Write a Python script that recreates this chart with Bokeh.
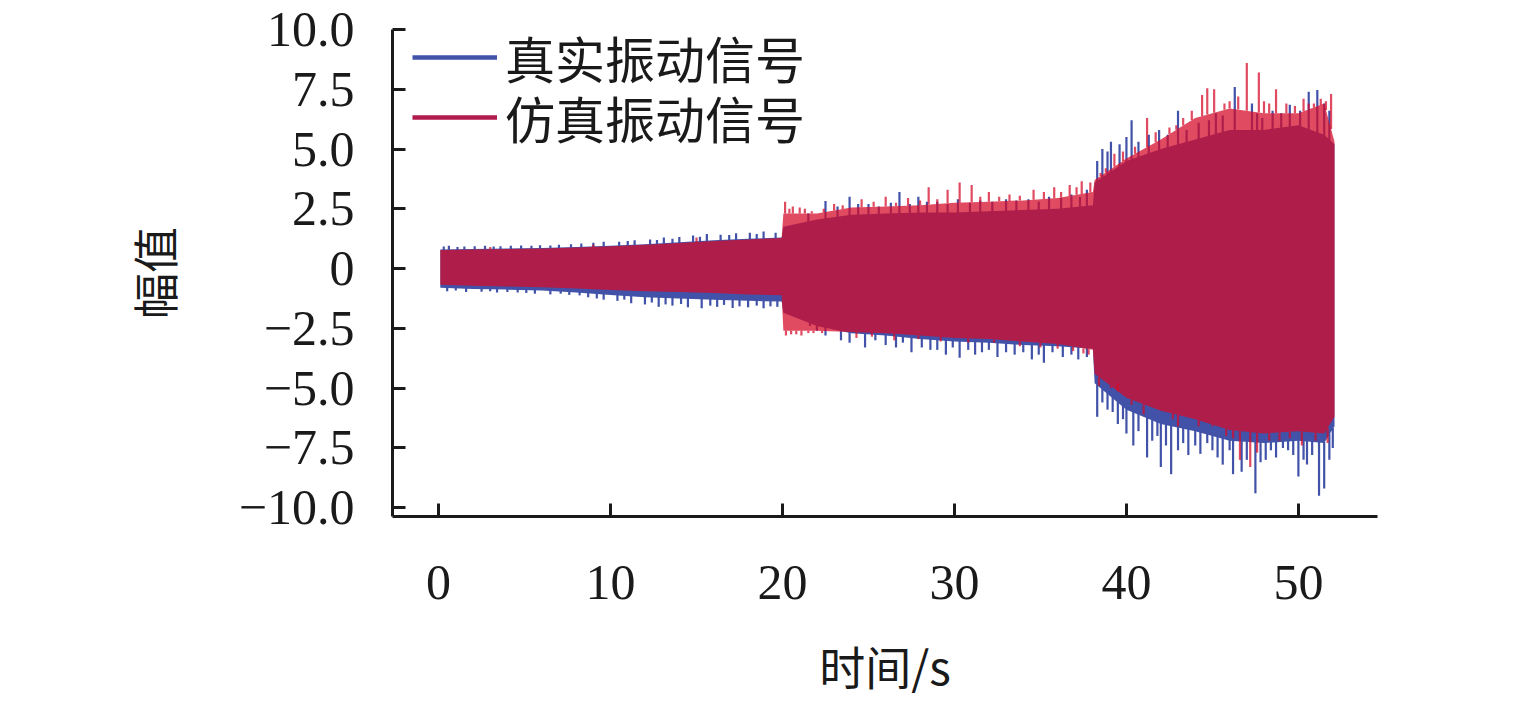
import numpy as np
from bokeh.plotting import figure
from bokeh.models import Range1d, FixedTicker, Legend, LegendItem
from bokeh.embed import file_html
from bokeh.resources import INLINE

# ---- data ----
# body envelope breakpoints (s)
t_env = [0.1, 2, 4, 6, 8, 10, 12, 14, 16, 18, 19.95, 20.05, 22, 24, 26, 28, 30,
         32, 34, 36, 38.05, 38.15, 40, 42, 44, 46, 48, 50, 51.5, 52.1]
real_top = [0.80, 0.82, 0.84, 0.86, 0.90, 0.95, 1.02, 1.10, 1.18, 1.25, 1.30, 1.75,
            2.05, 2.25, 2.30, 2.35, 2.35, 2.40, 2.45, 2.50, 2.65, 3.60, 4.50, 5.00,
            5.40, 5.80, 5.80, 6.00, 5.60, 5.20]
real_bot = [-0.80, -0.85, -0.88, -0.92, -1.00, -1.10, -1.20, -1.25, -1.30, -1.35,
            -1.38, -1.85, -2.40, -2.70, -2.80, -2.95, -3.05, -3.10, -3.20, -3.25,
            -3.35, -4.80, -5.90, -6.50, -6.80, -7.20, -7.30, -7.20, -7.30, -6.60]
sim_top = [0.78, 0.80, 0.82, 0.84, 0.88, 0.93, 1.00, 1.07, 1.15, 1.22, 1.28, 2.30,
           2.30, 2.55, 2.60, 2.65, 2.75, 2.80, 2.85, 2.95, 3.20, 3.70, 4.60, 5.40,
           6.30, 6.70, 6.50, 6.50, 6.90, 5.30]
sim_bot = [-0.68, -0.72, -0.75, -0.78, -0.83, -0.90, -0.95, -0.98, -1.02, -1.08,
           -1.12, -2.60, -2.60, -2.65, -2.70, -2.80, -2.90, -2.95, -3.05, -3.15,
           -3.40, -4.40, -5.40, -5.95, -6.30, -6.75, -6.90, -6.80, -6.90, -6.20]

# individual peaks (time s, amplitude)
real_up_t = [0.3, 0.6, 1.1, 1.5, 2.1, 2.7, 3.2, 3.6, 4.2, 4.8, 5.4, 5.9, 6.5, 7.0, 7.7,
             8.3, 9.0, 9.6, 10.5, 11.0, 11.4, 12.3, 12.7, 13.1, 13.6, 14.0, 14.8, 15.2,
             15.6, 16.4, 16.9, 17.3, 18.1, 18.5, 18.9, 19.6,
             21.5, 22.5, 23.2, 23.9, 24.4, 25.0, 25.6, 26.3, 26.8, 27.4, 27.9, 28.4, 29.0,
             29.6, 30.2, 30.9, 31.5, 32.2, 33.0, 33.6, 34.3, 34.9, 35.5, 36.2, 36.8, 37.3,
             37.7,
             38.3, 38.6, 38.9, 39.1, 39.6, 40.0, 40.3, 40.7, 41.3, 41.9, 42.4, 43.0, 43.5,
             44.2, 44.8, 45.2, 45.6, 46.3, 47.3, 47.6, 47.9, 48.5, 49.0, 49.5, 50.1, 50.6,
             51.1, 51.5, 51.8]
real_up_v = [0.92, 0.95, 0.90, 0.92, 0.93, 0.95, 0.92, 0.93, 0.95, 0.97, 0.95, 0.98, 0.97,
             1.00, 1.02, 1.05, 1.08, 1.12, 1.12, 1.15, 1.18, 1.22, 1.20, 1.30, 1.25, 1.32,
             1.38, 1.33, 1.45, 1.42, 1.40, 1.48, 1.50, 1.45, 1.55, 1.50,
             2.30, 2.83, 2.60, 3.00, 2.70, 2.70, 2.60, 2.75, 3.20, 2.70, 3.00, 2.80, 2.80,
             2.70, 2.90, 2.75, 2.85, 2.80, 2.90, 2.85, 2.90, 2.80, 3.00, 2.95, 3.10, 3.00,
             3.30,
             4.50, 5.00, 4.90, 5.30, 5.20, 5.50, 6.20, 5.30, 5.60, 5.80, 5.60, 6.60, 5.80,
             6.10, 6.20, 6.50, 6.40, 7.60, 6.90, 6.50, 6.30, 6.60, 6.50, 6.85, 6.60, 7.40,
             7.47, 6.90, 6.60]
real_dn_t = [0.5, 1.0, 1.6, 2.5, 3.0, 3.4, 4.0, 4.6, 5.1, 5.6, 6.5, 7.1, 7.6, 8.2, 8.7,
             9.2, 9.6, 10.4, 10.8, 11.2, 12.0, 12.4, 12.8, 13.2, 13.6, 14.1, 14.5, 15.3,
             15.8, 16.2, 16.6, 17.1, 17.5, 18.0, 18.5, 18.9, 19.3, 19.7,
             21.0, 21.6, 22.0, 22.5, 23.4, 23.9, 24.8, 25.4, 26.0, 26.6, 27.0, 27.5, 28.1,
             28.6, 29.0, 29.5, 29.9, 30.3, 30.8, 31.2, 31.6, 32.0, 32.5, 33.0, 33.5, 34.0,
             34.5, 34.9, 35.2, 35.7, 36.3, 36.8, 37.2, 37.7,
             38.3, 38.6, 38.9, 39.2, 39.5, 39.8, 40.0, 40.4, 40.7, 41.2, 41.5, 41.8, 42.0,
             42.3, 42.6, 43.0, 43.3, 43.6, 44.0, 44.3, 44.7, 45.0, 45.3, 45.6, 46.0, 46.2,
             46.7, 47.0, 47.5, 47.8, 48.1, 48.4, 48.7, 49.1, 49.4, 49.7, 50.0, 50.3, 50.5,
             50.8, 51.2, 51.5, 51.8, 52.0]
real_dn_v = [-0.95, -0.92, -0.98, -0.97, -0.95, -1.00, -0.98, -1.00, -1.02, -1.05, -1.08,
             -1.05, -1.10, -1.12, -1.20, -1.25, -1.30, -1.35, -1.30, -1.45, -1.50, -1.42,
             -1.60, -1.50, -1.55, -1.48, -1.62, -1.66, -1.55, -1.60, -1.52, -1.65, -1.58,
             -1.62, -1.55, -1.66, -1.58, -1.60,
             -2.10, -2.40, -2.60, -2.80, -3.00, -3.10, -3.30, -3.00, -3.20, -3.30, -3.10,
             -3.50, -3.30, -3.40, -3.40, -3.60, -3.30, -3.73, -3.40, -3.60, -3.50, -3.40,
             -3.70, -3.50, -3.60, -3.50, -3.80, -3.60, -3.94, -3.50, -3.70, -3.60, -3.80,
             -3.70,
             -6.20, -5.60, -5.90, -6.00, -6.50, -6.30, -6.90, -7.40, -6.80, -7.90, -7.20,
             -7.00, -8.30, -7.40, -8.60, -7.60, -7.30, -7.80, -7.40, -7.75, -7.30, -7.60,
             -7.90, -8.20, -7.60, -8.60, -8.50, -8.00, -9.40, -8.10, -8.00, -7.60, -7.90,
             -7.50, -7.60, -7.80, -8.70, -8.00, -8.20, -7.80, -9.50, -9.20, -8.00, -7.50]
sim_up_t = [3.0, 9.0, 15.0,
            20.15, 20.4, 20.6, 21.0, 21.3, 21.7, 22.4, 23.0, 23.5, 24.6, 25.3, 26.0, 26.6,
            27.3, 28.0, 28.5, 29.0, 29.6, 30.3, 31.0, 31.5, 32.0, 32.6, 33.2, 33.8, 34.6,
            35.2, 35.8, 36.2, 36.7, 37.1, 37.4, 37.9,
            38.5, 38.8, 39.3, 39.8, 40.5, 41.2, 41.7, 42.5, 42.9, 43.3, 43.8, 44.4, 44.7,
            45.1, 45.7, 46.0, 46.5, 47.0, 47.7, 48.0, 48.3, 48.7, 49.3, 49.8, 50.3, 50.6,
            50.9, 51.3, 51.6, 51.9]
sim_up_v = [0.90, 1.00, 1.30,
            2.80, 2.50, 2.60, 2.55, 2.50, 2.40, 2.50, 2.70, 2.65, 2.90, 2.80, 3.00, 2.75,
            2.95, 2.85, 3.40, 2.90, 3.30, 3.60, 3.50, 3.00, 3.20, 3.00, 3.10, 3.05, 3.30,
            3.20, 3.40, 3.20, 3.50, 3.40, 3.65, 3.60,
            4.00, 4.20, 4.80, 4.90, 5.10, 6.30, 5.70, 5.90, 6.00, 6.30, 6.60, 7.26, 7.54,
            7.50, 6.90, 7.00, 7.20, 8.60, 8.20, 7.00, 6.90, 7.50, 6.90, 6.80, 7.10, 6.90,
            6.90, 7.10, 7.00, 7.30]
sim_dn_t = [20.2, 20.5, 20.8, 21.1, 21.5, 21.8, 22.3, 24.3, 25.2, 26.5, 27.9, 29.2, 30.8,
            32.3, 33.8, 35.0, 36.0, 36.9, 37.5, 37.8,
            38.4, 39.1, 39.5, 40.3, 41.0, 42.7, 43.0, 44.2, 45.0, 45.8, 46.2, 46.6, 47.2,
            47.6, 48.3, 48.9, 49.5, 50.2, 51.0, 51.7]
sim_dn_v = [-2.80, -2.75, -2.75, -2.80, -2.70, -2.70, -2.70, -2.90, -2.85, -3.00, -2.95,
            -3.05, -3.10, -3.10, -3.25, -3.30, -3.35, -3.45, -3.55, -3.60,
            -4.90, -5.00, -4.80, -5.70, -6.10, -6.30, -6.60, -6.60, -6.60, -7.00, -7.10,
            -8.00, -8.30, -7.70, -7.20, -7.20, -7.10, -7.40, -7.20, -7.30]

x_ticks = [0, 10, 20, 30, 40, 50]
y_ticks = [10.0, 7.5, 5.0, 2.5, 0.0, -2.5, -5.0, -7.5, -10.0]
y_tick_labels = ["10.0", "7.5", "5.0", "2.5", "0", "\u22122.5", "\u22125.0", "\u22127.5", "\u221210.0"]

series_names = ["真实振动信号", "仿真振动信号"]
BLUE = "#4152A8"
RED = "#D50C2A"
RED_LEGEND = "#B01A4C"
AXIS = "#1a1a1a"

W, H = 1519, 700
FRAME_L, FRAME_T, FRAME_R, FRAME_B = 392, 29, 1377, 520
p = figure(width=W, height=H, output_backend="svg", toolbar_location=None,
           x_range=Range1d(-2.68, 54.6), y_range=Range1d(-10.37, 10.0),
           min_border_left=FRAME_L, min_border_right=W - FRAME_R,
           min_border_top=FRAME_T, min_border_bottom=H - FRAME_B)
p.outline_line_color = None
p.grid.visible = False
p.background_fill_color = "white"
p.border_fill_color = "white"

# real signal
p.varea(x=t_env, y1=real_bot, y2=real_top, fill_color=BLUE)
p.segment(x0=real_up_t, y0=np.interp(real_up_t, t_env, real_top) - 0.05, x1=real_up_t,
          y1=real_up_v, line_color=BLUE, line_width=2.2)
p.segment(x0=real_dn_t, y0=np.interp(real_dn_t, t_env, real_bot) + 0.05, x1=real_dn_t,
          y1=real_dn_v, line_color=BLUE, line_width=2.2)
# simulated signal
p.varea(x=t_env, y1=sim_bot, y2=sim_top, fill_color=RED, fill_alpha=0.74)
p.segment(x0=sim_up_t, y0=np.interp(sim_up_t, t_env, sim_top), x1=sim_up_t, y1=sim_up_v,
          line_color=RED, line_alpha=0.74, line_width=2.2)
p.segment(x0=sim_dn_t, y0=np.interp(sim_dn_t, t_env, sim_bot), x1=sim_dn_t, y1=sim_dn_v,
          line_color=RED, line_alpha=0.74, line_width=2.2)

# legend proxies (no visible data)
l1 = p.line(x=[np.nan], y=[np.nan], line_color=BLUE, line_width=4.5)
l2 = p.line(x=[np.nan], y=[np.nan], line_color=RED_LEGEND, line_width=4.5)

ROW = 74
frame_h = FRAME_B - FRAME_T
for item_r, name, cy in ((l1, series_names[0], 61), (l2, series_names[1], 121)):
    lg = Legend(items=[LegendItem(label=name, renderers=[item_r])])
    lg.location = (20, frame_h - (cy - FRAME_T) - ROW / 2)
    lg.label_text_font = "Noto Sans CJK SC"
    lg.label_text_font_size = "50px"
    lg.label_text_color = "#1a1a1a"
    lg.glyph_width = 85
    lg.glyph_height = ROW
    lg.label_height = ROW
    lg.label_standoff = 8
    lg.spacing = 0
    lg.margin = 0
    lg.padding = 0
    lg.border_line_color = None
    lg.background_fill_alpha = 0
    p.add_layout(lg)

for ax in (p.xaxis[0], p.yaxis[0]):
    ax.axis_line_width = 3
    ax.axis_line_color = AXIS
    ax.major_tick_line_width = 3
    ax.major_tick_line_color = AXIS
    ax.major_tick_in = 13
    ax.major_tick_out = 0
    ax.minor_tick_line_color = None
    ax.major_label_text_font = "Liberation Serif"
    ax.major_label_text_font_size = "50px"
    ax.major_label_text_color = AXIS
    ax.axis_label_text_font = "Noto Sans CJK SC"
    ax.axis_label_text_font_size = "46px"
    ax.axis_label_text_font_style = "normal"
    ax.axis_label_text_color = AXIS

p.xaxis.ticker = FixedTicker(ticks=x_ticks)
p.yaxis.ticker = FixedTicker(ticks=y_ticks)
p.yaxis.major_label_overrides = {v: s for v, s in zip(y_ticks, y_tick_labels)}
p.xaxis.axis_label = "时间/s"
p.yaxis.axis_label = "幅值"
p.xaxis.major_label_standoff = 49
p.xaxis.axis_label_standoff = 30
p.yaxis.major_label_standoff = 38
p.yaxis.axis_label_standoff = 50

open("out.html", "w").write(file_html(p, INLINE))
